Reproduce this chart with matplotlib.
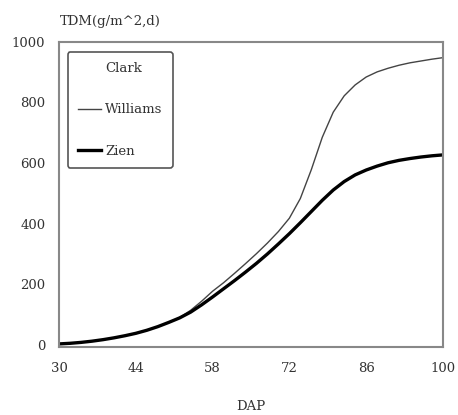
import matplotlib.pyplot as plt
from matplotlib.lines import Line2D

plt.rcParams['font.family'] = ['DejaVu Serif']

# Days after planting and total dry matter
dap = [30, 32, 34, 36, 38, 40, 42, 44, 46, 48, 50, 52, 54, 56, 58, 60, 62,
       64, 66, 68, 70, 72, 74, 76, 78, 80, 82, 84, 86, 88, 90, 92, 94, 96,
       98, 100]
williams = [3, 5, 8, 12, 17, 23, 30, 38, 48, 60, 74, 90, 114, 144, 177,
            205, 236, 268, 301, 336, 374, 418, 483, 578, 685, 768, 822, 858,
            884, 901, 913, 923, 931, 937, 943, 948]
zien = [3, 5, 8, 12, 17, 23, 30, 38, 48, 60, 74, 89, 108, 132, 158, 185,
        212, 240, 269, 300, 333, 367, 403, 440, 477, 511, 539, 561, 577,
        590, 601, 609, 615, 620, 624, 627]
xticks = [30, 44, 58, 72, 86, 100]
yticks = [0, 200, 400, 600, 800, 1000]

fig = plt.figure(figsize=(4.58, 4.15), dpi=100)
ax = fig.add_axes([0.129, 0.164, 0.838, 0.735])

ax.plot(dap, williams, color='#444444', linewidth=1.0)
ax.plot(dap, zien, color='black', linewidth=2.4)

ax.set_xlim(30, 100)
ax.set_ylim(-7, 1000)
ax.set_xticks(xticks)
ax.set_yticks(yticks)
ax.tick_params(axis='x', length=0, pad=11, labelsize=9.5, colors='#333333')
ax.tick_params(axis='y', length=0, pad=10, labelsize=9.5, colors='#333333')
for s in ax.spines.values():
    s.set_color('#888888')
    s.set_linewidth(1.5)

ax.set_xlabel('DAP', fontsize=9.5, color='#333333', labelpad=18)
fig.text(0.131, 0.949, 'TDM(g/m^2,d)', fontsize=9.5, color='#333333',
         ha='left', va='center')

handles = [Line2D([], [], color='none'),
           Line2D([], [], color='#444444', linewidth=1.0),
           Line2D([], [], color='black', linewidth=2.4)]
leg = ax.legend(handles, ['Clark', 'Williams', 'Zien'], loc='upper left',
                bbox_to_anchor=(0.012, 0.98), fontsize=9.5, labelspacing=2.15,
                handlelength=1.8, handletextpad=0.3, borderpad=0.75,
                borderaxespad=0.3, fancybox=True, framealpha=1)
leg.get_frame().set_edgecolor('#555555')
leg.get_frame().set_linewidth(1.2)
for t in leg.get_texts():
    t.set_color('#333333')

fig.savefig('out.png', dpi=100)
